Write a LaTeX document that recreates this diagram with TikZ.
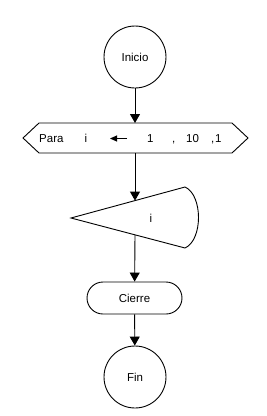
\documentclass[tikz,border=0pt]{standalone}
\usepackage{fontspec}
\setmainfont{Liberation Sans}
\usetikzlibrary{arrows.meta,shapes.misc}
\tikzset{
  flowline/.style={line width=0.9pt},
  arr/.style={flowline,-{Triangle[width=10pt,length=9pt]}},
  termcircle/.style={circle,draw,flowline,minimum size=62pt,inner sep=0pt},
  closebox/.style={rounded rectangle,draw,flowline,minimum width=95pt,minimum height=32pt,inner sep=0pt},
  lbl/.style={inner sep=0pt,anchor=base west,font=\fontsize{11.5}{13}\selectfont},
  mid/.style={inner sep=0pt,font=\fontsize{11.5}{13}\selectfont}
}
\begin{document}
\begin{tikzpicture}[x=1pt,y=-1pt]
\useasboundingbox (0,0) rectangle (266,416);
% Inicio
\node[termcircle,mid] (inicio) at (135,57) {Inicio};
% hexagon (Para loop)
\draw[flowline] (23,138) -- (39,123) -- (232,123) -- (248,138) -- (232,153) -- (39,153) -- cycle;
\coordinate (hextop) at (135,123);
\coordinate (hexbot) at (135,153);
\node[lbl] (para) at (39,142.5) {Para};
\node[lbl] (var) at (84.5,142.5) {i};
\coordinate (asgR) at (127,138.5);
\coordinate (asgL) at (110,138.5);
\draw[flowline,-{Triangle[width=6pt,length=7pt]}] (asgR) -- (asgL);
\node[lbl] (ini) at (147,142.5) {1};
\node[lbl] (c1) at (172,142.5) {,};
\node[lbl] (fin10) at (186,142.5) {10};
\node[lbl] (c2) at (211,142.5) {,};
\node[lbl] (step1) at (215,142.5) {1};
% body shape
\draw[flowline] (71,218) -- (185,187) .. controls (203,195) and (203,240) .. (185,248) -- cycle;
\coordinate (tritop) at (135,200.6);
\coordinate (tribot) at (135,234.8);
\node[mid] (bodyi) at (151,218) {i};
% Cierre
\node[closebox,mid] (cierre) at (134.5,298) {Cierre};
% Fin
\node[termcircle,mid] (fin) at (135,377) {Fin};
% connectors
\draw[arr] (inicio) -- (hextop);
\draw[arr] (hexbot) -- (tritop);
\draw[arr] (tribot) -- (cierre);
\draw[arr] (cierre) -- (fin);
\end{tikzpicture}
\end{document}
